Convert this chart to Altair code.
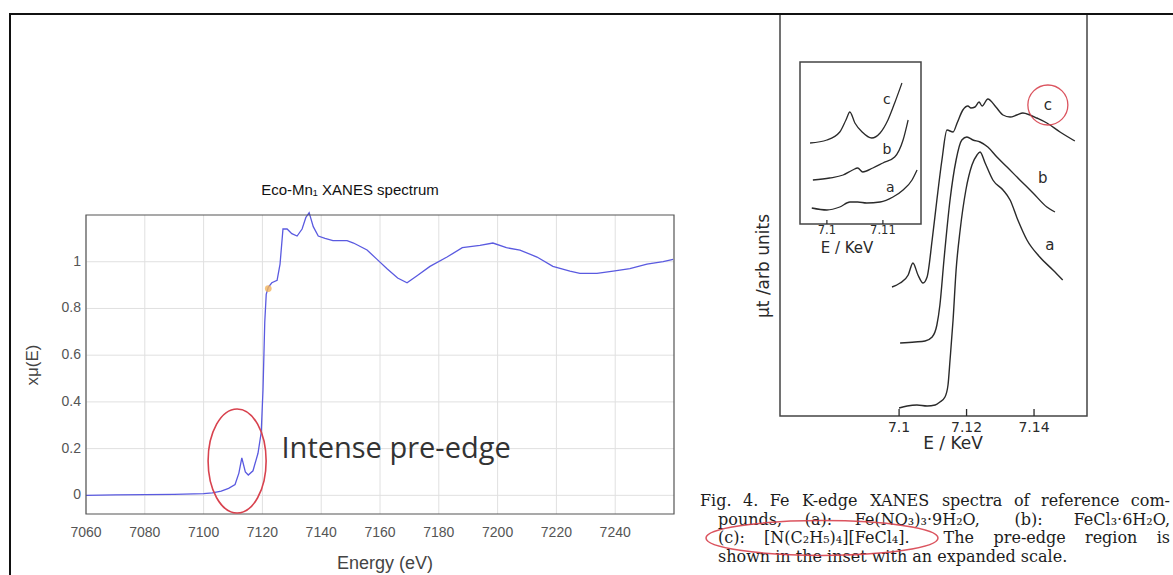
import altair as alt
import pandas as pd

# ---------------- Left panel: Eco-Mn1 XANES spectrum ----------------
ENERGY_EV = [7060, 7070, 7080, 7090, 7100, 7103, 7106, 7108.5, 7110.7, 7112, 7113,
             7114.2, 7115.2, 7116.8, 7118.5, 7119.6, 7120.2, 7120.8, 7121.3, 7122, 7123.2,
             7125, 7126, 7127, 7128.4, 7130, 7131.8, 7133.5, 7134.8, 7135.9, 7137.3, 7139,
             7141.3, 7144, 7148.8, 7151, 7155.6, 7159, 7162.4, 7166, 7169.2, 7172.6, 7177,
             7182.8, 7188, 7194, 7198.4, 7203, 7207.6, 7213.4, 7218.8, 7224.6, 7228, 7233.8,
             7239.3, 7245, 7250.8, 7256.3, 7259.7]
XMU = [0.0, 0.002, 0.003, 0.004, 0.007, 0.010, 0.018, 0.03, 0.046, 0.095, 0.16,
       0.10, 0.087, 0.105, 0.18, 0.27, 0.45, 0.74, 0.86, 0.89, 0.91,
       0.92, 0.99, 1.14, 1.14, 1.12, 1.11, 1.14, 1.19, 1.21, 1.15, 1.11,
       1.10, 1.09, 1.09, 1.08, 1.05, 1.01, 0.97, 0.93, 0.91, 0.94, 0.98,
       1.02, 1.06, 1.07, 1.08, 1.06, 1.05, 1.02, 0.98, 0.96, 0.95, 0.95,
       0.96, 0.97, 0.99, 1.00, 1.01]
LEFT_XDOMAIN = [7060, 7260]
LEFT_YDOMAIN = [-0.08, 1.2]
LEFT_XTICKS = [7060, 7080, 7100, 7120, 7140, 7160, 7180, 7200, 7220, 7240]
LEFT_YTICKS = [0, 0.2, 0.4, 0.6, 0.8, 1.0]
LEFT_XTITLE = "Energy    (eV)"
LEFT_YTITLE = "x\u03bc(E)"
PRE_EDGE_E = [7111.4]
PRE_EDGE_MU = [0.147]
MARK_E = [7122]
MARK_MU = [0.885]
ANNOT_TEXT = ["Intense pre-edge"]
ANNOT_E = [7126.5]
ANNOT_MU = [0.2]
LEFT_TITLE = "Eco-Mn\u2081 XANES spectrum"

# ---------------- Right panel: Fe K-edge reference spectra ----------------
C_E = [7.0979, 7.1003, 7.1027, 7.1041, 7.1056, 7.1071, 7.1083, 7.1098, 7.1112, 7.1127,
       7.1142, 7.1160, 7.1172, 7.1189, 7.1204, 7.1213, 7.1225, 7.1237, 7.1246, 7.1263,
       7.1287, 7.1308, 7.1329, 7.1349, 7.1367, 7.1388, 7.1408, 7.1438, 7.1477, 7.1521]
C_Y = [1.29, 1.33, 1.41, 1.53, 1.41, 1.33, 1.39, 1.76, 2.16, 2.56,
       2.86, 2.84, 2.93, 3.06, 3.10, 3.08, 3.09, 3.14, 3.10, 3.17,
       3.09, 3.01, 2.99, 3.01, 3.03, 3.01, 2.98, 2.93, 2.84, 2.75]
B_E = [7.1003, 7.1047, 7.1077, 7.1098, 7.1112, 7.1121, 7.1133, 7.1151, 7.1169, 7.1186,
       7.1201, 7.1219, 7.1240, 7.1263, 7.1290, 7.1320, 7.1358, 7.1397, 7.1438, 7.1462]
B_Y = [0.73, 0.74, 0.75, 0.79, 0.91, 1.11, 1.56, 2.16, 2.56, 2.76,
       2.79, 2.76, 2.74, 2.69, 2.59, 2.49, 2.36, 2.23, 2.09, 2.04]
A_E = [7.1000, 7.1024, 7.1053, 7.1083, 7.1107, 7.1121, 7.1136, 7.1145, 7.1151, 7.1160,
       7.1169, 7.1181, 7.1198, 7.1216, 7.1231, 7.1240, 7.1255, 7.1278, 7.1308, 7.1329,
       7.1352, 7.1379, 7.1417, 7.1456, 7.1485]
A_Y = [0.08, 0.10, 0.11, 0.10, 0.11, 0.14, 0.19, 0.31, 0.56, 0.96,
       1.46, 1.86, 2.26, 2.51, 2.61, 2.64, 2.53, 2.36, 2.26, 2.16,
       1.96, 1.76, 1.59, 1.46, 1.36]
RIGHT_XDOMAIN = [7.0647, 7.1557]
RIGHT_YDOMAIN = [0, 4.02]
RIGHT_XTICKS = [7.1, 7.12, 7.14]
RIGHT_LABELS = ["a", "b", "c"]
RIGHT_LABEL_E = [7.1447, 7.1426, 7.1441]
RIGHT_LABEL_Y = [1.71, 2.38, 3.11]
RIGHT_XTITLE = "E / KeV"
RIGHT_YTITLE = "\u03bct /arb units"

# inset (pre-edge, expanded scale)
IC_E = [7.0970, 7.1000, 7.1023, 7.1034, 7.1041, 7.1050, 7.1063, 7.1080, 7.1095, 7.1109, 7.1121, 7.1134]
IC_Y = [0.81, 0.84, 0.92, 1.04, 1.12, 1.01, 0.92, 0.86, 0.91, 1.04, 1.21, 1.41]
IB_E = [7.0975, 7.1005, 7.1029, 7.1046, 7.1055, 7.1064, 7.1082, 7.1100, 7.1121, 7.1136, 7.1145]
IB_Y = [0.44, 0.46, 0.49, 0.54, 0.56, 0.52, 0.56, 0.61, 0.67, 0.84, 1.04]
IA_E = [7.0973, 7.1000, 7.1023, 7.1041, 7.1055, 7.1071, 7.1095, 7.1118, 7.1136, 7.1152, 7.1161]
IA_Y = [0.16, 0.14, 0.17, 0.22, 0.22, 0.21, 0.22, 0.27, 0.34, 0.44, 0.54]
INSET_XDOMAIN = [7.0952, 7.1168]
INSET_YDOMAIN = [0, 1.62]
INSET_XTICKS = [7.1, 7.11]
INSET_LABELS = ["a", "b", "c"]
INSET_LABEL_E = [7.1113, 7.1107, 7.1107]
INSET_LABEL_Y = [0.36, 0.74, 1.24]
INSET_XTITLE = "E / KeV"

CAPTION = [
    ["Fig.", "4.", "Fe", "K-edge", "XANES", "spectra", "of", "reference", "com-"],
    ["pounds,", "(a):", "Fe(NO\u2083)\u2083\u00b79H\u2082O,", "(b):", "FeCl\u2083\u00b76H\u2082O,"],
    ["(c):", "[N(C\u2082H\u2085)\u2084][FeCl\u2084].", "The", "pre-edge", "region", "is"],
    ["shown in the inset with an expanded scale."],
]

# ---------------- layout / style ----------------
W, H = 1173, 575
LEFT_XRANGE = [86, 674]
LEFT_YRANGE = [514, 215]
RIGHT_XRANGE = [780, 1087]
RIGHT_YRANGE = [416, 14]
INSET_XRANGE = [800, 921]
INSET_YRANGE = [224, 62]
CAPTION_START = [700, 718, 718, 718]
CAPTION_END = 1170
CAPTION_Y = [501, 519.5, 538, 556.5]
CAPTION_SIZE = 16
SANS = "Liberation Sans"
LETTER = "DejaVu Sans"
SERIF = "DejaVu Serif"
INK = "#2a2a2a"
RED = "#d8424e"
AXIS_GRAY = "#555"

# approximate advance widths of DejaVu Serif (per 1000 em), used only to spread the
# justified caption words across the column
_DS = {" ": 318, "(": 390, ")": 390, ",": 318, "-": 338, ".": 318, ":": 337, "[": 390,
       "]": 390, "\u00b7": 318, "C": 734, "E": 730, "F": 694, "H": 872, "K": 749,
       "N": 872, "O": 787, "S": 685, "T": 682, "X": 757, "A": 722, "a": 596, "b": 640,
       "c": 560, "d": 640, "e": 592, "f": 370, "g": 640, "h": 644, "i": 320, "l": 320,
       "m": 948, "n": 644, "o": 602, "p": 640, "r": 478, "s": 513, "t": 402, "u": 644,
       "w": 856, "x": 564}


def text_width(s, size):
    tot = 0
    for ch in s:
        if ch.isdigit():
            tot += 636
        elif "\u2080" <= ch <= "\u2089":
            tot += 400
        else:
            tot += _DS.get(ch, 600)
    return tot * size / 1000.0


def df(**cols):
    return pd.DataFrame(cols)


# ---------- left panel ----------
xs = alt.Scale(domain=LEFT_XDOMAIN, range=LEFT_XRANGE, nice=False, zero=False)
ys = alt.Scale(domain=LEFT_YDOMAIN, range=LEFT_YRANGE, nice=False, zero=False)

left_grid_x = alt.Chart(df(t=LEFT_XTICKS)).mark_rule(color="#e0e0e0", strokeWidth=1).encode(
    x=alt.X("t:Q", scale=xs, axis=None),
    y=alt.YDatum(LEFT_YDOMAIN[0], scale=ys, axis=None),
    y2=alt.Y2Datum(LEFT_YDOMAIN[1]),
)
left_grid_y = alt.Chart(df(t=LEFT_YTICKS)).mark_rule(color="#e0e0e0", strokeWidth=1).encode(
    y=alt.Y("t:Q", scale=ys, axis=None),
    x=alt.XDatum(LEFT_XDOMAIN[0], scale=xs, axis=None),
    x2=alt.X2Datum(LEFT_XDOMAIN[1]),
)
left_xlabels = alt.Chart(df(t=LEFT_XTICKS)).mark_text(
    font=SANS, fontSize=14, color=AXIS_GRAY, baseline="middle", align="center", dy=19
).encode(
    x=alt.X("t:Q", scale=xs, axis=None),
    y=alt.YDatum(LEFT_YDOMAIN[0], scale=ys, axis=None),
    text=alt.Text("t:Q", format="d"),
)
left_ylabels = alt.Chart(df(t=LEFT_YTICKS)).mark_text(
    font=SANS, fontSize=14, color=AXIS_GRAY, baseline="middle", align="right", dx=-5
).encode(
    y=alt.Y("t:Q", scale=ys, axis=None),
    x=alt.XDatum(LEFT_XDOMAIN[0], scale=xs, axis=None),
    text=alt.Text("t:Q", format="~g"),
)
left_line = alt.Chart(df(E=ENERGY_EV, mu=XMU)).mark_line(
    color="#5a5ae0", strokeWidth=1.3, clip=True
).encode(
    x=alt.X("E:Q", scale=xs, axis=None),
    y=alt.Y("mu:Q", scale=ys, axis=None),
    order=alt.Order("E:Q"),
)
left_frame = alt.Chart(df(k=[0])).mark_rect(
    fill="white", fillOpacity=0, stroke="#555", strokeWidth=1.2
).encode(
    x=alt.XDatum(LEFT_XDOMAIN[0], scale=xs, axis=None), x2=alt.X2Datum(LEFT_XDOMAIN[1]),
    y=alt.YDatum(LEFT_YDOMAIN[0], scale=ys, axis=None), y2=alt.Y2Datum(LEFT_YDOMAIN[1]),
)
ELLIPSE_TALL = "M-0.558,0A0.558,1,0,1,1,0.558,0A0.558,1,0,1,1,-0.558,0Z"
left_ellipse = alt.Chart(df(E=PRE_EDGE_E, mu=PRE_EDGE_MU)).mark_point(
    shape=ELLIPSE_TALL, size=104 * 104, filled=False, stroke=RED, strokeWidth=1.6, opacity=1
).encode(x=alt.X("E:Q", scale=xs, axis=None), y=alt.Y("mu:Q", scale=ys, axis=None))
left_dot = alt.Chart(df(E=MARK_E, mu=MARK_MU)).mark_point(
    filled=True, color="#f2b45c", opacity=0.8, size=45
).encode(x=alt.X("E:Q", scale=xs, axis=None), y=alt.Y("mu:Q", scale=ys, axis=None))
left_annot = alt.Chart(df(E=ANNOT_E, mu=ANNOT_MU, t=ANNOT_TEXT)).mark_text(
    align="left", baseline="middle", font="Open Sans", fontSize=29, color="#333"
).encode(x=alt.X("E:Q", scale=xs, axis=None), y=alt.Y("mu:Q", scale=ys, axis=None), text="t:N")

left_panel = alt.layer(left_grid_x, left_grid_y, left_line, left_frame, left_ellipse,
                       left_dot, left_annot, left_xlabels, left_ylabels)

# ---------- right panel ----------
xr = alt.Scale(domain=RIGHT_XDOMAIN, range=RIGHT_XRANGE, nice=False, zero=False)
yr = alt.Scale(domain=RIGHT_YDOMAIN, range=RIGHT_YRANGE, nice=False, zero=False)
right_curves = pd.concat([
    df(E=A_E, y=A_Y, s=["a"] * len(A_E)),
    df(E=B_E, y=B_Y, s=["b"] * len(B_E)),
    df(E=C_E, y=C_Y, s=["c"] * len(C_E)),
])
right_lines = alt.Chart(right_curves).mark_line(
    color=INK, strokeWidth=1.4, interpolate="monotone"
).encode(
    x=alt.X("E:Q", scale=xr, axis=None),
    y=alt.Y("y:Q", scale=yr, axis=None),
    detail="s:N",
    order=alt.Order("E:Q"),
)
right_ticks = alt.Chart(df(t=RIGHT_XTICKS)).mark_rule(color=INK, strokeWidth=1.3).encode(
    x=alt.X("t:Q", scale=xr, axis=None),
    y=alt.YDatum(0, scale=yr, axis=None), y2=alt.Y2Datum(0.07),
)
right_xlabels = alt.Chart(df(t=RIGHT_XTICKS)).mark_text(
    font=LETTER, fontSize=14, color=INK, baseline="middle", align="center", dy=12
).encode(
    x=alt.X("t:Q", scale=xr, axis=None),
    y=alt.YDatum(0, scale=yr, axis=None),
    text=alt.Text("t:Q", format="~g"),
)
right_frame = alt.Chart(df(k=[0])).mark_rect(
    fill="white", fillOpacity=0, stroke="#444", strokeWidth=1.5
).encode(
    x=alt.XDatum(RIGHT_XDOMAIN[0], scale=xr, axis=None), x2=alt.X2Datum(RIGHT_XDOMAIN[1]),
    y=alt.YDatum(RIGHT_YDOMAIN[0], scale=yr, axis=None), y2=alt.Y2Datum(RIGHT_YDOMAIN[1]),
)
right_labels = alt.Chart(df(E=RIGHT_LABEL_E, y=RIGHT_LABEL_Y, t=RIGHT_LABELS)).mark_text(
    font=LETTER, fontSize=15, color=INK, baseline="middle"
).encode(x=alt.X("E:Q", scale=xr, axis=None), y=alt.Y("y:Q", scale=yr, axis=None), text="t:N")
right_circle = alt.Chart(df(E=[RIGHT_LABEL_E[2]], y=[RIGHT_LABEL_Y[2]])).mark_point(
    shape="circle", size=1600, filled=False, stroke=RED, strokeWidth=1.3, opacity=0.9
).encode(x=alt.X("E:Q", scale=xr, axis=None), y=alt.Y("y:Q", scale=yr, axis=None))
right_panel = alt.layer(right_frame, right_ticks, right_lines, right_labels, right_circle,
                        right_xlabels)

# ---------- inset ----------
xi = alt.Scale(domain=INSET_XDOMAIN, range=INSET_XRANGE, nice=False, zero=False)
yi = alt.Scale(domain=INSET_YDOMAIN, range=INSET_YRANGE, nice=False, zero=False)
inset_curves = pd.concat([
    df(E=IA_E, y=IA_Y, s=["a"] * len(IA_E)),
    df(E=IB_E, y=IB_Y, s=["b"] * len(IB_E)),
    df(E=IC_E, y=IC_Y, s=["c"] * len(IC_E)),
])
inset_lines = alt.Chart(inset_curves).mark_line(
    color=INK, strokeWidth=1.3, interpolate="monotone"
).encode(
    x=alt.X("E:Q", scale=xi, axis=None),
    y=alt.Y("y:Q", scale=yi, axis=None),
    detail="s:N",
    order=alt.Order("E:Q"),
)
inset_ticks = alt.Chart(df(t=INSET_XTICKS)).mark_rule(color=INK, strokeWidth=1.2).encode(
    x=alt.X("t:Q", scale=xi, axis=None),
    y=alt.YDatum(0, scale=yi, axis=None), y2=alt.Y2Datum(0.04),
)
inset_xlabels = alt.Chart(df(t=INSET_XTICKS)).mark_text(
    font=LETTER, fontSize=11.5, color=INK, baseline="middle", align="center", dy=7
).encode(
    x=alt.X("t:Q", scale=xi, axis=None),
    y=alt.YDatum(0, scale=yi, axis=None),
    text=alt.Text("t:Q", format="~g"),
)
inset_frame = alt.Chart(df(k=[0])).mark_rect(
    fill="white", fillOpacity=0, stroke="#444", strokeWidth=1.5
).encode(
    x=alt.XDatum(INSET_XDOMAIN[0], scale=xi, axis=None), x2=alt.X2Datum(INSET_XDOMAIN[1]),
    y=alt.YDatum(INSET_YDOMAIN[0], scale=yi, axis=None), y2=alt.Y2Datum(INSET_YDOMAIN[1]),
)
inset_labels = alt.Chart(df(E=INSET_LABEL_E, y=INSET_LABEL_Y, t=INSET_LABELS)).mark_text(
    font=LETTER, fontSize=14, color=INK, baseline="middle"
).encode(x=alt.X("E:Q", scale=xi, axis=None), y=alt.Y("y:Q", scale=yi, axis=None), text="t:N")
inset_panel = alt.layer(inset_frame, inset_ticks, inset_lines, inset_labels, inset_xlabels)


# ---------- free text / decorations ----------
def free_text(text, x, y, **kw):
    return alt.Chart(df(t=[text])).mark_text(baseline="middle", **kw).encode(
        x=alt.value(x), y=alt.value(y), text="t:N")


overlays = [
    free_text(LEFT_TITLE, 350, 190, font=SANS, fontSize=15, color="#111", align="center"),
    free_text(LEFT_XTITLE, 385, 564, font=SANS, fontSize=18, color="#444", align="center"),
    free_text(LEFT_YTITLE, 33, 365, font=SANS, fontSize=17, color="#444", align="center", angle=270),
    free_text(RIGHT_YTITLE, 764, 266, font=LETTER, fontSize=17, color=INK, align="center", angle=270),
    free_text(RIGHT_XTITLE, 953, 444, font=LETTER, fontSize=17, color=INK, align="center"),
    free_text(INSET_XTITLE, 847, 248, font=LETTER, fontSize=15, color=INK, align="center"),
]
for li, words in enumerate(CAPTION):
    widths = [text_width(w, CAPTION_SIZE) for w in words]
    if li < len(CAPTION) - 1 and len(words) > 1:
        gap = (CAPTION_END - CAPTION_START[li] - sum(widths)) / (len(words) - 1)
    else:
        gap = 0
    xpos = CAPTION_START[li]
    for wi, word in enumerate(words):
        last = (wi == len(words) - 1) and li < len(CAPTION) - 1
        overlays.append(free_text(word, CAPTION_END if last else round(xpos, 1), CAPTION_Y[li],
                                  font=SERIF, fontSize=CAPTION_SIZE,
                                  color="#1c1c1c", align="right" if last else "left"))
        xpos += widths[wi] + gap
ELLIPSE_WIDE = "M-1,0A1,0.15,0,1,1,1,0A1,0.15,0,1,1,-1,0Z"
overlays.append(alt.Chart(df(k=[0])).mark_point(
    shape=ELLIPSE_WIDE, size=232 * 232, filled=False, stroke=RED, strokeWidth=1.5, opacity=0.9
).encode(x=alt.value(822), y=alt.value(538)))
overlays.append(alt.Chart(df(k=[0])).mark_rect(
    fill="white", fillOpacity=0, stroke="#111", strokeWidth=2
).encode(x=alt.value(10), x2=alt.value(1200), y=alt.value(14), y2=alt.value(600)))

chart = alt.layer(left_panel, right_panel, inset_panel, *overlays).resolve_scale(
    x="independent", y="independent"
).properties(
    width=W, height=H, padding=0, autosize=alt.AutoSizeParams(type="none")
).configure_view(stroke=None)

chart.save("out.html", embed_options={"renderer": "svg", "actions": False})
